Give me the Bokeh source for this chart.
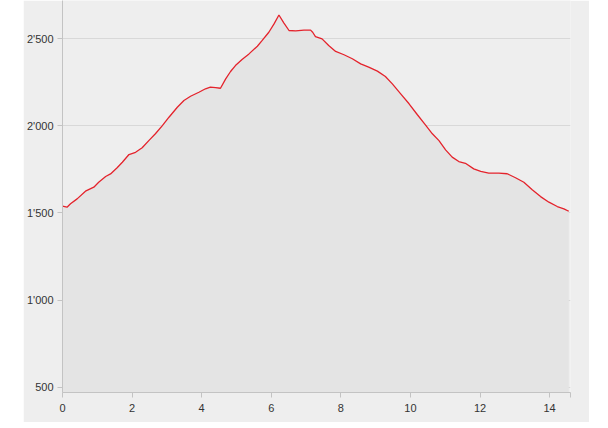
from bokeh.plotting import figure
from bokeh.models import FixedTicker, Range1d
from bokeh.embed import file_html
from bokeh.resources import INLINE

# Elevation profile (distance in km, elevation in m)
distance_km = [0.00, 0.13, 0.23, 0.42, 0.66, 0.90, 1.04, 1.24, 1.38, 1.57, 1.72, 1.91,
               2.10, 2.29, 2.48, 2.67, 2.87, 3.06, 3.30, 3.49, 3.68, 3.92, 4.11, 4.25,
               4.40, 4.54, 4.69, 4.83, 4.97, 5.16, 5.36, 5.60, 5.74, 5.93, 6.08, 6.22,
               6.36, 6.51, 6.70, 6.94, 7.13, 7.19, 7.27, 7.46, 7.65, 7.85, 8.09, 8.33,
               8.57, 8.80, 9.05, 9.28, 9.48, 9.72, 9.96, 10.20, 10.43, 10.63, 10.82,
               11.01, 11.20, 11.39, 11.58, 11.82, 12.02, 12.25, 12.54, 12.78, 13.02,
               13.26, 13.50, 13.74, 13.98, 14.22, 14.41, 14.55]
elevation_m = [1540, 1533, 1553, 1581, 1625, 1648, 1676, 1709, 1724, 1759, 1791, 1835,
               1848, 1874, 1915, 1954, 2001, 2049, 2106, 2145, 2169, 2192, 2212, 2221,
               2219, 2215, 2269, 2311, 2345, 2380, 2412, 2456, 2489, 2536, 2584, 2635,
               2590, 2546, 2544, 2548, 2548, 2536, 2511, 2498, 2460, 2426, 2407, 2384,
               2355, 2336, 2313, 2282, 2240, 2183, 2126, 2063, 2005, 1954, 1915,
               1862, 1820, 1795, 1785, 1753, 1738, 1728, 1728, 1725, 1702,
               1676, 1633, 1594, 1562, 1537, 1524, 1510]

x_ticks = [0, 2, 4, 6, 8, 10, 12, 14]
y_ticks = [500, 1000, 1500, 2000, 2500]
y_tick_labels = ["500", "1'000", "1'500", "2'000", "2'500"]
x_end = 14.6
y_start, y_end = 471, 2718

p = figure(width=566, height=422, output_backend="svg", toolbar_location=None,
           x_range=Range1d(0, x_end), y_range=Range1d(y_start, y_end),
           min_border_left=39, min_border_right=19, min_border_top=0, min_border_bottom=30)
p.margin = (0, 0, 0, 23)
p.background_fill_color = "#eeeeee"
p.border_fill_color = "#eeeeee"
p.outline_line_color = None

p.xgrid.visible = False
p.ygrid.grid_line_color = "#d8d8d8"
p.ygrid.ticker = FixedTicker(ticks=y_ticks)

p.varea(x=distance_km, y1=0, y2=elevation_m, fill_color="#e4e4e4")
p.line(distance_km, elevation_m, line_color="#e4232c", line_width=1.3)

for ax in (p.xaxis[0], p.yaxis[0]):
    ax.axis_line_color = "#c3c3c3"
    ax.major_tick_line_color = "#c3c3c3"
    ax.minor_tick_line_color = None
    ax.major_tick_in = 0
    ax.major_tick_out = 5
    ax.major_label_text_font = "Liberation Sans"
    ax.major_label_text_font_size = "11px"
    ax.major_label_text_color = "#333333"

p.xaxis.ticker = FixedTicker(ticks=x_ticks + [x_end])
p.xaxis.major_label_overrides = {x_end: ""}
p.xaxis.major_label_standoff = 6
p.yaxis.ticker = FixedTicker(ticks=y_ticks)
p.yaxis.major_label_overrides = {t: l for t, l in zip(y_ticks, y_tick_labels)}
p.yaxis.major_label_standoff = 4

open("out.html", "w").write(file_html(p, INLINE))
